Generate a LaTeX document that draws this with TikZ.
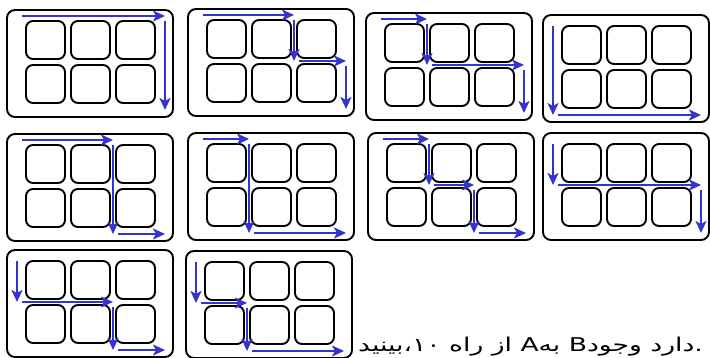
\documentclass[tikz,border=0pt]{standalone}
\usepackage{fontspec}
\newfontfamily\farsifont[Script=Arabic, FakeStretch=1.4]{DejaVu Sans}
\usetikzlibrary{arrows.meta}
\definecolor{routeblue}{RGB}{52,52,204}
\tikzset{
  board/.pic={
    \draw[frame] (0,0) rectangle (166,107);
    \foreach \c in {0,1,2}
      \foreach \r in {0,1}
        \draw[cell] (19+45*\c,11+44*\r) rectangle ++(39,38);
    \foreach \i/\xx in {0/10,1/61,2/106,3/158}
      \foreach \j/\yy in {0/6,1/52,2/100}
        \coordinate (-\i\j) at (\xx,\yy);
  }
}
\begin{document}
\begin{tikzpicture}[x=1pt, y=-1pt,
    frame/.style={draw=black, line width=1.9pt, rounded corners=8pt},
    cell/.style={draw=black, line width=1.9pt, rounded corners=7pt},
    route/.style={draw=routeblue, line width=2.5pt, shorten <=5pt,
      -{Stealth[length=12pt, width=11pt, inset=3pt]}},
    note/.style={font=\farsifont\fontsize{19}{22}\selectfont, inner sep=0pt, anchor=base east}]
  \useasboundingbox (0,0) rectangle (710,358);
  \pic (a) at (7,10) {board};
  \draw[route] (a-00) -- (a-30);
  \draw[route] (a-30) -- (a-32);
  \pic (b) at (188,9) {board};
  \draw[route] (b-00) -- (b-20);
  \draw[route] (b-20) -- (b-21);
  \draw[route] (b-21) -- (b-31);
  \draw[route] (b-31) -- (b-32);
  \pic (c) at (366,13) {board};
  \draw[route] (c-00) -- (c-10);
  \draw[route] (c-10) -- (c-11);
  \draw[route] (c-11) -- (c-31);
  \draw[route] (c-31) -- (c-32);
  \pic (d) at (543,15) {board};
  \draw[route] (d-00) -- (d-02);
  \draw[route] (d-02) -- (d-32);
  \pic (e) at (7,134) {board};
  \draw[route] (e-00) -- (e-20);
  \draw[route] (e-20) -- (e-22);
  \draw[route] (e-22) -- (e-32);
  \pic (f) at (188,133) {board};
  \draw[route] (f-00) -- (f-10);
  \draw[route] (f-10) -- (f-12);
  \draw[route] (f-12) -- (f-32);
  \pic (g) at (368,133) {board};
  \draw[route] (g-00) -- (g-10);
  \draw[route] (g-10) -- (g-11);
  \draw[route] (g-11) -- (g-21);
  \draw[route] (g-21) -- (g-22);
  \draw[route] (g-22) -- (g-32);
  \pic (h) at (543,133) {board};
  \draw[route] (h-00) -- (h-01);
  \draw[route] (h-01) -- (h-31);
  \draw[route] (h-31) -- (h-32);
  \pic (i) at (7,250) {board};
  \draw[route] (i-00) -- (i-01);
  \draw[route] (i-01) -- (i-21);
  \draw[route] (i-21) -- (i-22);
  \draw[route] (i-22) -- (i-32);
  \pic (j) at (186,251) {board};
  \draw[route] (j-00) -- (j-01);
  \draw[route] (j-01) -- (j-11);
  \draw[route] (j-11) -- (j-12);
  \draw[route] (j-12) -- (j-32);
  \node[note] (caption) at (703,352) {\mbox{بینید}\mbox{،}\mbox{۱۰} \mbox{راه} \mbox{از} \mbox{A}\mbox{به} \mbox{B}\mbox{وجود} \mbox{دارد}\mbox{.}};
\end{tikzpicture}
\end{document}
